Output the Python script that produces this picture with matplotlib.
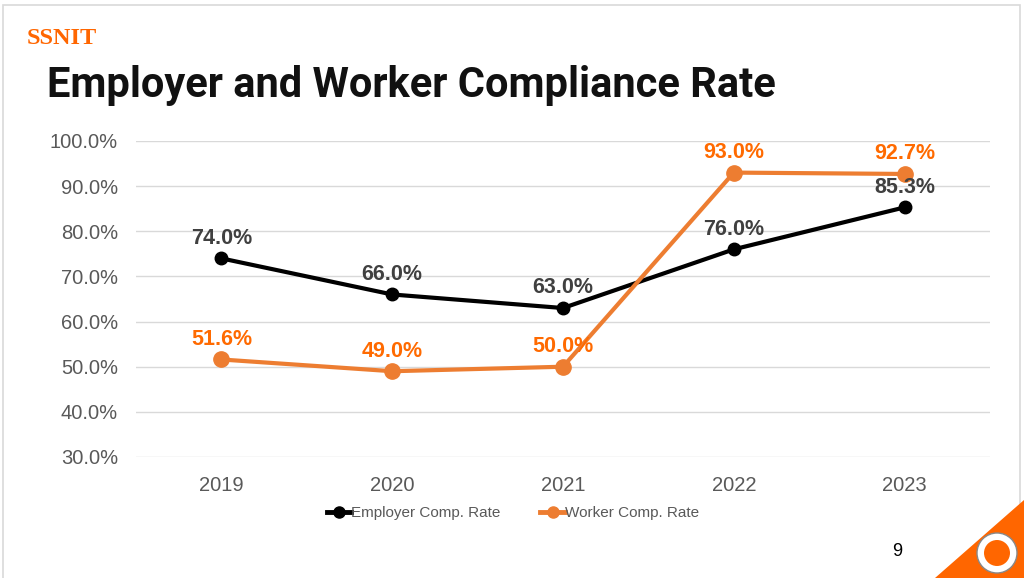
import matplotlib.pyplot as plt
from matplotlib.patches import Polygon, Circle, Rectangle

years = ["2019", "2020", "2021", "2022", "2023"]
employer = [74.0, 66.0, 63.0, 76.0, 85.3]
worker = [51.6, 49.0, 50.0, 93.0, 92.7]
yticks = [30, 40, 50, 60, 70, 80, 90, 100]

BLACK = "#000000"
ORANGE = "#ED7D31"
LABEL_ORANGE = "#FF6A00"
LABEL_DARK = "#404040"
GRAY = "#595959"

plt.rcParams['font.family'] = ['Liberation Sans', 'DejaVu Sans']

fig = plt.figure(figsize=(10.24, 5.78), dpi=100)

# slide frame
frame = Rectangle((2.5 / 1024, -0.1), (1020 - 2.5) / 1024, 1.1 - 5 / 578,
                  transform=fig.transFigure, fill=False, edgecolor="#D9D9D9",
                  linewidth=1.2)
fig.add_artist(frame)

fig.text(27 / 1024, 1 - 44 / 578, "SSNIT", color="#FF6600", fontsize=17.5,
         fontweight="bold", family="Liberation Serif", va="baseline")
fig.text(47 / 1024, 1 - 97 / 578, "Employer and Worker Compliance Rate",
         color="#111111", fontsize=30, fontweight="bold", family="Roboto",
         va="baseline")

ax = fig.add_axes([136 / 1024, 1 - 457 / 578, 854 / 1024, 316 / 578])
x = list(range(len(years)))
ax.plot(x, employer, color=BLACK, linewidth=3, marker="o", markersize=9,
        label="Employer Comp. Rate", zorder=3)
ax.plot(x, worker, color=ORANGE, linewidth=3, marker="o", markersize=11,
        label="Worker Comp. Rate", zorder=3)

for i in x:
    ax.annotate(f"{employer[i]:.1f}%", (i, employer[i]), xytext=(0, 7),
                textcoords="offset points", ha="center", va="bottom",
                fontsize=15.5, fontweight="bold", color=LABEL_DARK, zorder=5)
    ax.annotate(f"{worker[i]:.1f}%", (i, worker[i]), xytext=(0, 7),
                textcoords="offset points", ha="center", va="bottom",
                fontsize=15.5, fontweight="bold", color=LABEL_ORANGE, zorder=5)

ax.set_xlim(-0.5, len(years) - 0.5)
ax.set_ylim(30, 100)
ax.set_yticks(yticks)
ax.set_yticklabels([f"{v:.1f}%" for v in yticks])
ax.set_xticks(x)
ax.set_xticklabels(years)
ax.tick_params(axis="both", length=0, labelsize=14.5, colors=GRAY)
ax.tick_params(axis="y", pad=13)
ax.tick_params(axis="x", pad=14)
ax.grid(axis="y", color="#D9D9D9", linewidth=1)
ax.set_axisbelow(True)
for s in ax.spines.values():
    s.set_visible(False)
for ln in ax.lines:
    ln.set_clip_on(False)

leg = ax.legend(loc="center", bbox_to_anchor=(513 / 1024, 1 - 513 / 578),
                bbox_transform=fig.transFigure, ncol=2, frameon=False,
                fontsize=11, handlelength=1.6, handletextpad=0.0,
                columnspacing=2.6, labelcolor=GRAY)
for h in leg.legend_handles:
    h.set_markersize(8)
    h.set_linewidth(3.5)

fig.text(897 / 1024, 1 - 556 / 578, "9", fontsize=13, color="#000000",
         va="baseline", ha="center")

# corner decoration
tri = Polygon([(935 / 1024, 0), (1, 0), (1, 1 - 500 / 578)], closed=True,
              transform=fig.transFigure, facecolor="#FF6600", edgecolor="none")
fig.add_artist(tri)
fig.add_artist(Circle((9.97, 0.25), 0.2, transform=fig.dpi_scale_trans,
                      facecolor="white", edgecolor="#888888", linewidth=1))
fig.add_artist(Circle((9.97, 0.25), 0.13, transform=fig.dpi_scale_trans,
                      facecolor="#FF6600", edgecolor="none"))

fig.savefig("out.png", dpi=100)
